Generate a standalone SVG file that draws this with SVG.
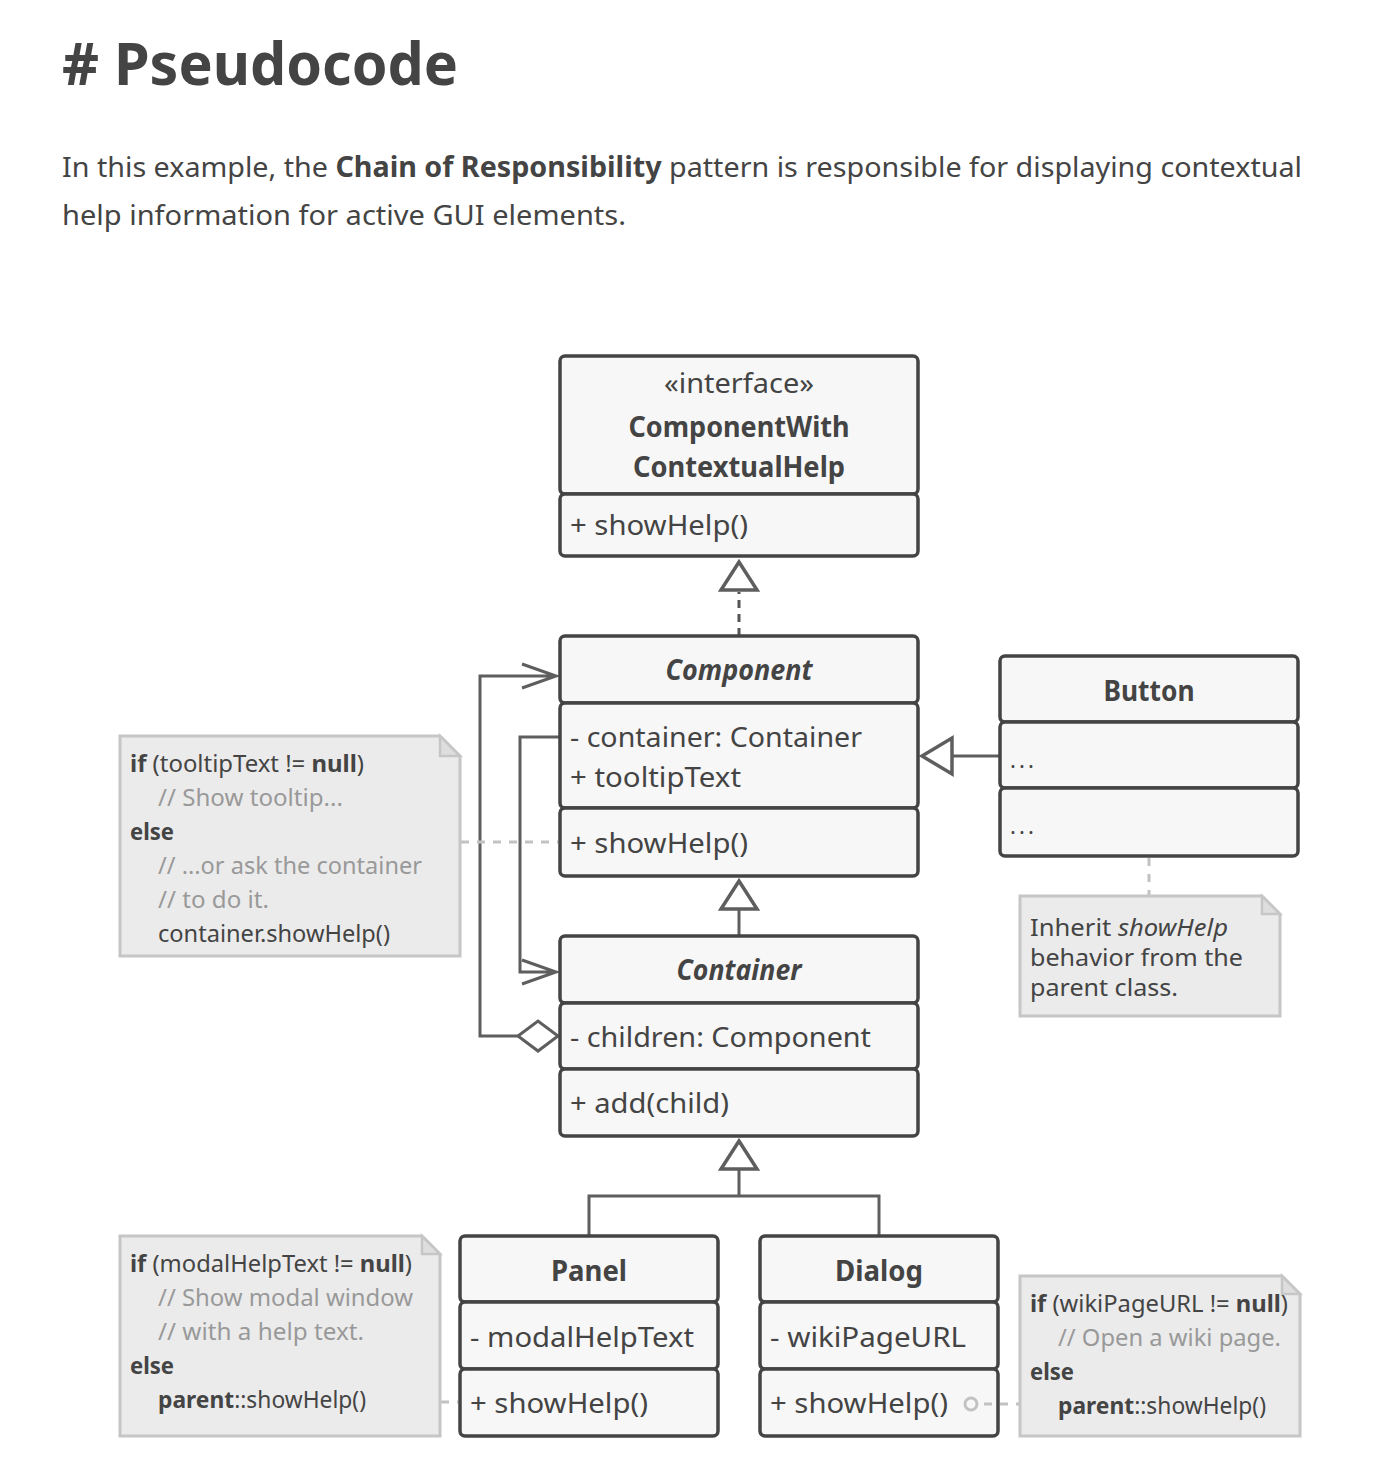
<svg xmlns="http://www.w3.org/2000/svg" width="1392" height="1470" viewBox="0 0 1392 1470">
<style>
text{font-family:"Noto Sans","Open Sans","DejaVu Sans",sans-serif;fill:#444}
.b{font-weight:bold}
.i{font-style:italic}
.c{fill:#999}
.box{fill:#f7f7f7;stroke:#444;stroke-width:3.5}
.note{fill:#ebebeb;stroke:#c6c6c6;stroke-width:3}
.fold{fill:#dedede;stroke:#c6c6c6;stroke-width:2.5}
.cn{fill:none;stroke:#5e5e5e;stroke-width:3}
.tri{fill:#fff;stroke:#5e5e5e;stroke-width:3.5}
.dash{fill:none;stroke:#c2c2c2;stroke-width:3;stroke-dasharray:8 8}
.bx{font-size:28px}
.nt{font-size:23px}
</style>
<rect width="1392" height="1470" fill="#fff"/>
<g id="header">
<text x="62" y="85" class="b" font-size="60" textLength="396" lengthAdjust="spacingAndGlyphs"># Pseudocode</text>
<text x="62" y="177" font-size="28" textLength="1240" lengthAdjust="spacingAndGlyphs">In this example, the <tspan class="b">Chain of Responsibility</tspan> pattern is responsible for displaying contextual</text>
<text x="62" y="225" font-size="28" textLength="564" lengthAdjust="spacingAndGlyphs">help information for active GUI elements.</text>
</g>
<g id="connectors">
<line x1="739" y1="636" x2="739" y2="592" stroke="#555" stroke-width="3" stroke-dasharray="8 6"/>
<path class="tri" d="M739,562 L757,590 L721,590 Z"/>
<line class="cn" x1="739" y1="936" x2="739" y2="910"/>
<path class="tri" d="M739,881 L757,909 L721,909 Z"/>
<line class="cn" x1="1000" y1="756" x2="952" y2="756"/>
<path class="tri" d="M922,756 L952,738 L952,774 Z"/>
<path class="cn" d="M739,1170 V1196 M589,1236 V1196 H879 V1236"/>
<path class="tri" d="M739,1141 L757,1169 L721,1169 Z"/>
<path class="cn" d="M518,1036 H480 V676 H556 M522,664 L556,676 L522,688"/>
<path fill="#fff" stroke="#5e5e5e" stroke-width="3" d="M518,1036 L538,1021 L558,1036 L538,1051 Z"/>
<path class="cn" d="M560,737 H520 V972 H556 M522,960 L556,972 L522,984"/>
<line class="dash" x1="461" y1="842" x2="558" y2="842"/>
<line class="dash" x1="1149" y1="858" x2="1149" y2="895"/>
<line class="dash" x1="441" y1="1402" x2="458" y2="1402"/>
</g>
<g id="ComponentWithContextualHelp">
<rect class="box" x="560" y="356" width="358" height="138" rx="5"/>
<rect class="box" x="560" y="494" width="358" height="62" rx="5"/>
<text x="739" y="393" class="bx" text-anchor="middle" font-size="27" textLength="150" lengthAdjust="spacingAndGlyphs">«interface»</text>
<text x="739" y="437" class="bx b" text-anchor="middle" textLength="221" lengthAdjust="spacingAndGlyphs">ComponentWith</text>
<text x="739" y="477" class="bx b" text-anchor="middle" textLength="212" lengthAdjust="spacingAndGlyphs">ContextualHelp</text>
<text x="570" y="535" class="bx" textLength="178" lengthAdjust="spacingAndGlyphs">+ showHelp()</text>
</g>
<g id="Component">
<rect class="box" x="560" y="636" width="358" height="67" rx="5"/>
<rect class="box" x="560" y="703" width="358" height="105" rx="5"/>
<rect class="box" x="560" y="808" width="358" height="68" rx="5"/>
<text x="739" y="680" class="bx b i" text-anchor="middle" textLength="147" lengthAdjust="spacingAndGlyphs">Component</text>
<text x="570" y="747" class="bx" textLength="292" lengthAdjust="spacingAndGlyphs">- container: Container</text>
<text x="570" y="787" class="bx" textLength="171" lengthAdjust="spacingAndGlyphs">+ tooltipText</text>
<text x="570" y="853" class="bx" textLength="178" lengthAdjust="spacingAndGlyphs">+ showHelp()</text>
</g>
<g id="Button">
<rect class="box" x="1000" y="656" width="298" height="66" rx="5"/>
<rect class="box" x="1000" y="722" width="298" height="66" rx="5"/>
<rect class="box" x="1000" y="788" width="298" height="68" rx="5"/>
<text x="1149" y="701" class="bx b" text-anchor="middle" textLength="91" lengthAdjust="spacingAndGlyphs">Button</text>
<text x="1010" y="768" font-size="22" textLength="24" lengthAdjust="spacing">...</text>
<text x="1010" y="834" font-size="22" textLength="24" lengthAdjust="spacing">...</text>
</g>
<g id="Container">
<rect class="box" x="560" y="936" width="358" height="67" rx="5"/>
<rect class="box" x="560" y="1003" width="358" height="66" rx="5"/>
<rect class="box" x="560" y="1069" width="358" height="67" rx="5"/>
<text x="739" y="980" class="bx b i" text-anchor="middle" textLength="125" lengthAdjust="spacingAndGlyphs">Container</text>
<text x="570" y="1047" class="bx" textLength="301" lengthAdjust="spacingAndGlyphs">- children: Component</text>
<text x="570" y="1113" class="bx" textLength="159" lengthAdjust="spacingAndGlyphs">+ add(child)</text>
</g>
<g id="Panel">
<rect class="box" x="460" y="1236" width="258" height="66" rx="5"/>
<rect class="box" x="460" y="1302" width="258" height="67" rx="5"/>
<rect class="box" x="460" y="1369" width="258" height="67" rx="5"/>
<text x="589" y="1281" class="bx b" text-anchor="middle" textLength="76" lengthAdjust="spacingAndGlyphs">Panel</text>
<text x="470" y="1347" class="bx" textLength="224" lengthAdjust="spacingAndGlyphs">- modalHelpText</text>
<text x="470" y="1413" class="bx" textLength="178" lengthAdjust="spacingAndGlyphs">+ showHelp()</text>
</g>
<g id="Dialog">
<rect class="box" x="760" y="1236" width="238" height="66" rx="5"/>
<rect class="box" x="760" y="1302" width="238" height="67" rx="5"/>
<rect class="box" x="760" y="1369" width="238" height="67" rx="5"/>
<text x="879" y="1281" class="bx b" text-anchor="middle" textLength="88" lengthAdjust="spacingAndGlyphs">Dialog</text>
<text x="770" y="1347" class="bx" textLength="196" lengthAdjust="spacingAndGlyphs">- wikiPageURL</text>
<text x="770" y="1413" class="bx" textLength="178" lengthAdjust="spacingAndGlyphs">+ showHelp()</text>
</g>
<g id="dialog-note-link">
<line class="dash" x1="984" y1="1404" x2="1019" y2="1404"/>
<circle cx="971" cy="1404" r="6" fill="#f7f7f7" stroke="#c2c2c2" stroke-width="3"/>
</g>
<g id="note-component">
<path class="note" d="M120,736 H440 L460,756 V956 H120 Z"/>
<path class="fold" d="M440,736 V756 H460 Z"/>
<text x="130" y="772" class="nt" textLength="234" lengthAdjust="spacingAndGlyphs"><tspan class="b">if</tspan> (tooltipText != <tspan class="b">null</tspan>)</text>
<text x="158" y="806" class="nt c" textLength="185" lengthAdjust="spacingAndGlyphs">// Show tooltip...</text>
<text x="130" y="840" class="nt b" textLength="44" lengthAdjust="spacingAndGlyphs">else</text>
<text x="158" y="874" class="nt c" textLength="264" lengthAdjust="spacingAndGlyphs">// ...or ask the container</text>
<text x="158" y="908" class="nt c" textLength="111" lengthAdjust="spacingAndGlyphs">// to do it.</text>
<text x="158" y="942" class="nt" textLength="232" lengthAdjust="spacingAndGlyphs">container.showHelp()</text>
</g>
<g id="note-button">
<path class="note" d="M1020,896 H1262 L1280,914 V1016 H1020 Z"/>
<path class="fold" d="M1262,896 V914 H1280 Z"/>
<text x="1030" y="936" font-size="23" textLength="198" lengthAdjust="spacingAndGlyphs">Inherit <tspan class="i">showHelp</tspan></text>
<text x="1030" y="966" font-size="23" textLength="213" lengthAdjust="spacingAndGlyphs">behavior from the</text>
<text x="1030" y="996" font-size="23" textLength="148" lengthAdjust="spacingAndGlyphs">parent class.</text>
</g>
<g id="note-panel">
<path class="note" d="M120,1236 H422 L440,1254 V1436 H120 Z"/>
<path class="fold" d="M422,1236 V1254 H440 Z"/>
<text x="130" y="1272" class="nt" textLength="282" lengthAdjust="spacingAndGlyphs"><tspan class="b">if</tspan> (modalHelpText != <tspan class="b">null</tspan>)</text>
<text x="158" y="1306" class="nt c" textLength="255" lengthAdjust="spacingAndGlyphs">// Show modal window</text>
<text x="158" y="1340" class="nt c" textLength="206" lengthAdjust="spacingAndGlyphs">// with a help text.</text>
<text x="130" y="1374" class="nt b" textLength="44" lengthAdjust="spacingAndGlyphs">else</text>
<text x="158" y="1408" class="nt" textLength="208" lengthAdjust="spacingAndGlyphs"><tspan class="b">parent</tspan>::showHelp()</text>
</g>
<g id="note-dialog">
<path class="note" d="M1020,1276 H1282 L1300,1294 V1436 H1020 Z"/>
<path class="fold" d="M1282,1276 V1294 H1300 Z"/>
<text x="1030" y="1312" class="nt" textLength="258" lengthAdjust="spacingAndGlyphs"><tspan class="b">if</tspan> (wikiPageURL != <tspan class="b">null</tspan>)</text>
<text x="1058" y="1346" class="nt c" textLength="223" lengthAdjust="spacingAndGlyphs">// Open a wiki page.</text>
<text x="1030" y="1380" class="nt b" textLength="44" lengthAdjust="spacingAndGlyphs">else</text>
<text x="1058" y="1414" class="nt" textLength="208" lengthAdjust="spacingAndGlyphs"><tspan class="b">parent</tspan>::showHelp()</text>
</g>
</svg>
